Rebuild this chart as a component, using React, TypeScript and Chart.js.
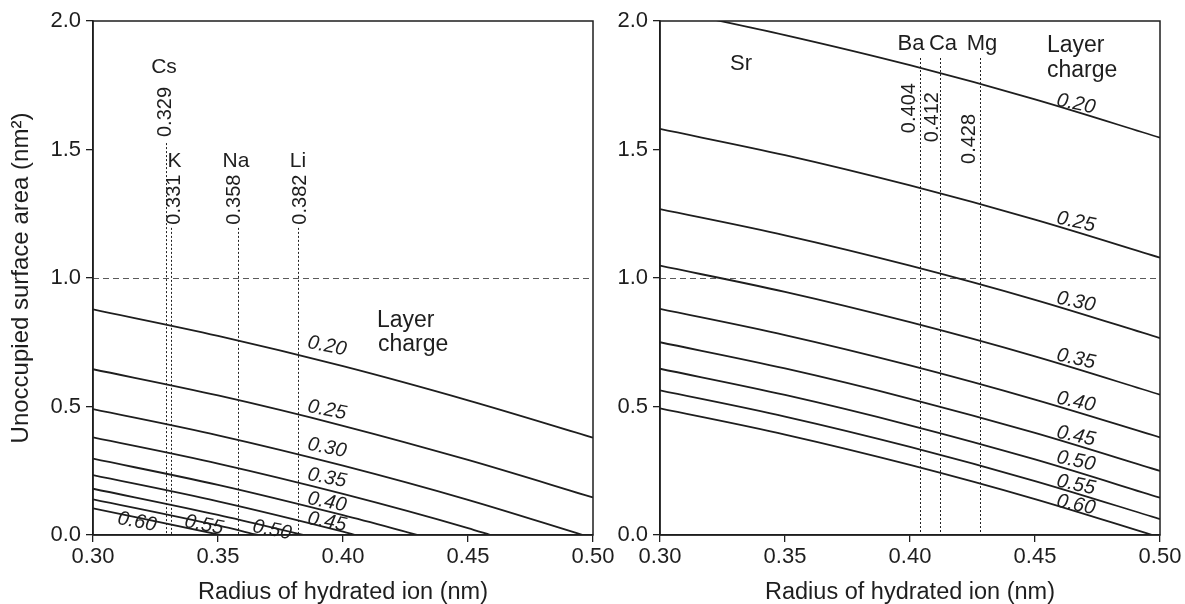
import { useEffect, useRef } from 'react';
import { Chart, registerables } from 'chart.js';

Chart.register(...registerables);

// ---------------- data ----------------
const radiusTicks = [0.3, 0.35, 0.4, 0.45, 0.5];
const areaTicks = [0, 0.5, 1.0, 1.5, 2.0];
const layerCharges = ['0.20', '0.25', '0.30', '0.35', '0.40', '0.45', '0.50', '0.55', '0.60'];
const radiusGrid = [0.3, 0.35, 0.4, 0.45, 0.5];

// monovalent cations (left panel), values at radiusGrid, then zero crossing
const mono020 = [0.878, 0.775, 0.657, 0.524, 0.379];
const mono025 = [0.645, 0.543, 0.425, 0.292, 0.146];
const mono030 = [0.49, 0.388, 0.27, 0.137];
const mono035 = [0.38, 0.278, 0.16, 0.027];
const mono040 = [0.297, 0.195, 0.077];
const mono045 = [0.233, 0.131, 0.013];
const mono050 = [0.18, 0.078];
const mono055 = [0.139, 0.037];
const mono060 = [0.104];
const monoZeroRadius = [null, null, 0.496, 0.459, 0.43, 0.405, 0.384, 0.366, 0.351];

// divalent cations (right panel)
const di020 = [2.05, 1.945, 1.828, 1.695, 1.546];
const di025 = [1.58, 1.478, 1.36, 1.227, 1.079];
const di030 = [1.268, 1.166, 1.048, 0.915, 0.766];
const di035 = [1.048, 0.946, 0.828, 0.695, 0.546];
const di040 = [0.88, 0.778, 0.66, 0.527, 0.38];
const di045 = [0.75, 0.648, 0.53, 0.397, 0.249];
const di050 = [0.647, 0.545, 0.427, 0.294, 0.145];
const di055 = [0.563, 0.461, 0.343, 0.21, 0.062];
const di060 = [0.493, 0.391, 0.273, 0.14];
const diZeroRadius = [null, null, null, null, null, null, null, null, 0.497];

const monoIons = ['Cs', 'K', 'Na', 'Li'];
const monoRadii = [0.329, 0.331, 0.358, 0.382];
const diIons = ['Ba', 'Ca', 'Mg'];
const diRadii = [0.404, 0.412, 0.428];
const referenceArea = 1.0;

// ---------------- helpers ----------------
const FONT = '"Liberation Sans", Arial, Helvetica, sans-serif';
const INK = '#1e1e1e';

function points(values: number[], zero: number | null) {
  const pts = values.map((v, i) => ({ x: radiusGrid[i], y: v }));
  if (zero != null) pts.push({ x: zero, y: 0 });
  return pts;
}

type TextItem = {
  text: string;
  x: number;
  y: number;
  size: number;
  italic?: boolean;
  angle?: number;
  align?: CanvasTextAlign;
  baseline?: CanvasTextBaseline;
};

function overlayPlugin(opts: { ionLines: { r: number; top: number }[]; texts: TextItem[] }) {
  return {
    id: 'overlay',
    beforeDatasetsDraw(chart: any) {
      const { ctx, chartArea, scales } = chart;
      const xs = scales.x;
      const ys = scales.y;
      ctx.save();
      ctx.strokeStyle = '#5a5a5a';
      ctx.lineWidth = 1.2;
      ctx.setLineDash([6, 4]);
      const yr = Math.round(ys.getPixelForValue(referenceArea)) + 0.5;
      ctx.beginPath();
      ctx.moveTo(chartArea.left, yr);
      ctx.lineTo(chartArea.right, yr);
      ctx.stroke();
      ctx.strokeStyle = '#222';
      ctx.lineWidth = 1;
      ctx.setLineDash([2, 2]);
      for (const l of opts.ionLines) {
        const px = Math.round(xs.getPixelForValue(l.r)) + 0.5;
        ctx.beginPath();
        ctx.moveTo(px, ys.getPixelForValue(l.top));
        ctx.lineTo(px, chartArea.bottom);
        ctx.stroke();
      }
      ctx.restore();
    },
    afterDraw(chart: any) {
      const { ctx, chartArea, scales } = chart;
      const xs = scales.x;
      const ys = scales.y;
      ctx.save();
      ctx.strokeStyle = INK;
      ctx.lineWidth = 1.5;
      ctx.setLineDash([]);
      ctx.strokeRect(chartArea.left, chartArea.top, chartArea.right - chartArea.left, chartArea.bottom - chartArea.top);
      ctx.fillStyle = INK;
      for (const t of opts.texts) {
        ctx.save();
        ctx.font = `${t.italic ? 'italic ' : ''}${t.size}px ${FONT}`;
        ctx.textAlign = t.align || 'center';
        ctx.textBaseline = t.baseline || 'alphabetic';
        ctx.translate(xs.getPixelForValue(t.x), ys.getPixelForValue(t.y));
        if (t.angle) ctx.rotate((t.angle * Math.PI) / 180);
        ctx.fillText(t.text, 0, 0);
        ctx.restore();
      }
      ctx.restore();
    },
  };
}

function makeConfig(side: 'left' | 'right') {
  const isLeft = side === 'left';
  const series = isLeft
    ? [mono020, mono025, mono030, mono035, mono040, mono045, mono050, mono055, mono060]
    : [di020, di025, di030, di035, di040, di045, di050, di055, di060];
  const zeros = isLeft ? monoZeroRadius : diZeroRadius;
  const datasets = series.map((vals, i) => ({
    label: layerCharges[i],
    data: points(vals, zeros[i]),
    borderColor: INK,
    borderWidth: 1.8,
    pointRadius: 0,
    fill: false,
    cubicInterpolationMode: 'monotone',
  }));

  const curveLabelPos = isLeft
    ? [
        [0.3936, 0.735], [0.3936, 0.486], [0.3936, 0.339], [0.3936, 0.222], [0.3936, 0.128],
        [0.3936, 0.051], [0.3716, 0.019], [0.3444, 0.039], [0.3176, 0.051],
      ]
    : [
        [0.4664, 1.677], [0.4664, 1.218], [0.4664, 0.907], [0.4664, 0.685], [0.4664, 0.518],
        [0.4664, 0.385], [0.4664, 0.288], [0.4664, 0.195], [0.4664, 0.117],
      ];
  const texts: TextItem[] = layerCharges.map((c, i) => ({
    text: c,
    x: curveLabelPos[i][0],
    y: curveLabelPos[i][1],
    size: 20,
    italic: true,
    angle: isLeft ? 11 : 12,
    baseline: 'middle',
  }));

  let ionLines: { r: number; top: number }[];
  if (isLeft) {
    const nameX = [0.3284, 0.3326, 0.3572, 0.382];
    const nameY = [1.798, 1.43, 1.43, 1.43];
    const numX = [0.3288, 0.3326, 0.3564, 0.3828];
    const numY = [1.646, 1.305, 1.305, 1.305];
    ionLines = monoRadii.map((r, i) => ({ r, top: i === 0 ? 1.525 : 1.195 }));
    monoIons.forEach((n, i) => {
      texts.push({ text: n, x: nameX[i], y: nameY[i], size: 21 });
      texts.push({ text: monoRadii[i].toFixed(3), x: numX[i], y: numY[i], size: 20, angle: -90, baseline: 'middle' });
    });
    texts.push({ text: 'Layer', x: 0.4136, y: 0.809, size: 23, align: 'left' });
    texts.push({ text: 'charge', x: 0.414, y: 0.716, size: 23, align: 'left' });
  } else {
    const nameX = [0.4004, 0.4132, 0.4288];
    const numX = [0.3996, 0.4088, 0.4236];
    const numY = [1.661, 1.626, 1.541];
    ionLines = diRadii.map((r) => ({ r, top: 1.856 }));
    diIons.forEach((n, i) => {
      texts.push({ text: n, x: nameX[i], y: 1.887, size: 22 });
      texts.push({ text: diRadii[i].toFixed(3), x: numX[i], y: numY[i], size: 20, angle: -90, baseline: 'middle' });
    });
    texts.push({ text: 'Sr', x: 0.3324, y: 1.809, size: 22 });
    texts.push({ text: 'Layer', x: 0.4548, y: 1.879, size: 23, align: 'left' });
    texts.push({ text: 'charge', x: 0.4548, y: 1.782, size: 23, align: 'left' });
  }

  return {
    type: 'line' as const,
    data: { datasets },
    options: {
      responsive: false,
      animation: false,
      events: [],
      layout: { padding: { left: 0, top: 21, right: isLeft ? 37 : 25, bottom: 0 } },
      plugins: { legend: { display: false }, tooltip: { enabled: false } },
      scales: {
        x: {
          type: 'linear',
          min: 0.3,
          max: 0.5,
          afterBuildTicks: (s: any) => {
            s.ticks = radiusTicks.map((v) => ({ value: v }));
          },
          afterFit: (s: any) => {
            s.height = 69;
          },
          ticks: {
            callback: (v: any) => Number(v).toFixed(2),
            font: { family: FONT, size: 22 },
            color: INK,
            padding: 2,
            maxRotation: 0,
            autoSkip: false,
          },
          grid: { drawOnChartArea: false, drawTicks: true, tickLength: 7, color: INK, lineWidth: 1.3 },
          border: { color: INK, width: 1.5 },
          title: {
            display: true,
            text: 'Radius of hydrated ion (nm)',
            font: { family: FONT, size: 23.5, lineHeight: 1 },
            color: INK,
            padding: { top: 0, bottom: 0 },
          },
        },
        y: {
          type: 'linear',
          min: 0,
          max: 2,
          afterBuildTicks: (s: any) => {
            s.ticks = areaTicks.map((v) => ({ value: v }));
          },
          afterFit: (s: any) => {
            s.width = isLeft ? 93 : 60;
          },
          ticks: {
            callback: (v: any) => Number(v).toFixed(1),
            font: { family: FONT, size: 22 },
            color: INK,
            padding: 5,
          },
          grid: { drawOnChartArea: false, drawTicks: true, tickLength: 7, color: INK, lineWidth: 1.3 },
          border: { color: INK, width: 1.5 },
          title: {
            display: isLeft,
            text: 'Unoccupied surface area (nm²)',
            font: { family: FONT, size: 24 },
            color: INK,
            padding: { top: 7, bottom: 0 },
          },
        },
      },
    },
    plugins: [overlayPlugin({ ionLines, texts })],
  };
}

export default function App() {
  const leftRef = useRef<HTMLCanvasElement>(null);
  const rightRef = useRef<HTMLCanvasElement>(null);

  useEffect(() => {
    const charts: Chart[] = [];
    if (leftRef.current) charts.push(new Chart(leftRef.current, makeConfig('left') as any));
    if (rightRef.current) charts.push(new Chart(rightRef.current, makeConfig('right') as any));
    return () => charts.forEach((c) => c.destroy());
  }, []);

  return (
    <div style={{ position: 'absolute', left: 0, top: 0, width: 1185, height: 604, background: '#fff', overflow: 'hidden' }}>
      <canvas ref={leftRef} width={630} height={604} style={{ position: 'absolute', left: 0, top: 0 }} />
      <canvas ref={rightRef} width={585} height={604} style={{ position: 'absolute', left: 600, top: 0 }} />
    </div>
  );
}
